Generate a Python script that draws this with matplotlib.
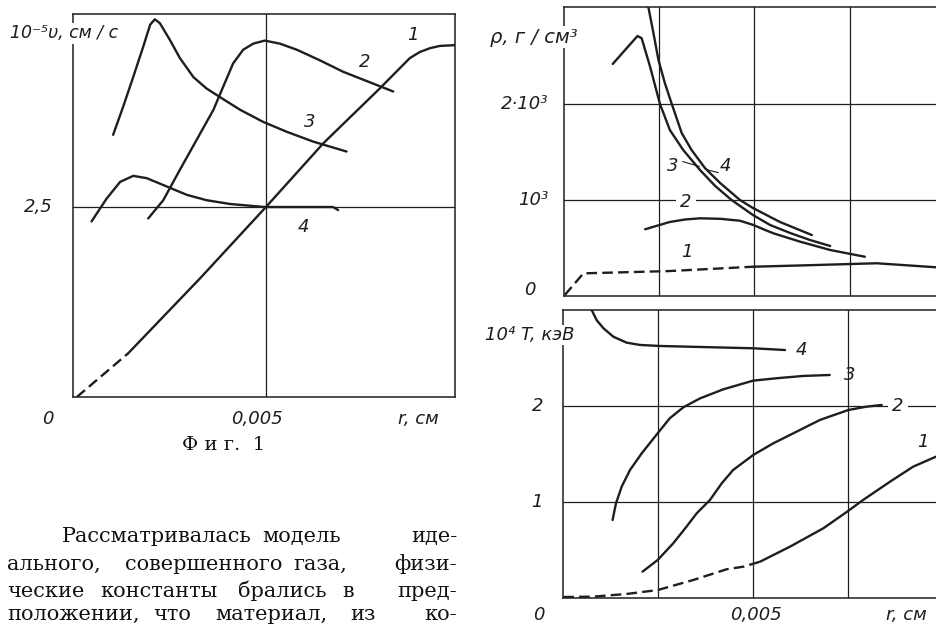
import matplotlib
matplotlib.use('Agg')
import matplotlib.pyplot as plt
from matplotlib.transforms import offset_copy

# ---------------- data ----------------
# Fig. 1 (left): velocity 10^-5 v, cm/s vs r, cm
v1_dash_r = [0.0001, 0.00143]
v1_dash = [0.0, 0.575]
v1_r = [0.00143, 0.00329, 0.0050, 0.00649, 0.00795, 0.00873, 0.00899, 0.00925, 0.00951, 0.0099]
v1 = [0.575, 1.56, 2.50, 3.34, 4.06, 4.46, 4.54, 4.59, 4.62, 4.63]
v2_r = [0.00195, 0.00234, 0.00277, 0.00320, 0.00364, 0.00389, 0.00415, 0.00441, 0.00467, 0.00497,
        0.00536, 0.00580, 0.00640, 0.00700, 0.00830]
v2 = [2.35, 2.59, 2.99, 3.38, 3.78, 4.08, 4.39, 4.57, 4.65, 4.69,
      4.65, 4.57, 4.43, 4.28, 4.02]
v3_r = [0.00104, 0.00130, 0.00156, 0.00182, 0.00200, 0.00212, 0.00225, 0.00251, 0.00277, 0.00312,
        0.00346, 0.00389, 0.00433, 0.00493, 0.00554, 0.00623, 0.00709]
v3 = [3.45, 3.82, 4.21, 4.61, 4.90, 4.97, 4.92, 4.70, 4.46, 4.21,
      4.06, 3.92, 3.78, 3.62, 3.49, 3.36, 3.23]
v4_r = [0.00048, 0.00087, 0.00122, 0.00156, 0.00191, 0.00243, 0.00295, 0.00346, 0.00407, 0.00497,
        0.00623, 0.00674, 0.00687]
v4 = [2.31, 2.61, 2.83, 2.91, 2.88, 2.77, 2.66, 2.59, 2.54, 2.50,
      2.50, 2.50, 2.46]
v_xgrid = [0.005]
v_ygrid = [2.5]
v_ytick_labels = ['2,5']

# right top: density rho, g/cm^3
rho1_dash_r = [0.00002, 0.00051, 0.00278, 0.00497]
rho1_dash = [10, 236, 260, 305]
rho1_r = [0.00497, 0.0062, 0.00821, 0.00977]
rho1 = [305, 318, 341, 299]
rho2_r = [0.00213, 0.00278, 0.00318, 0.00357, 0.00410, 0.00462, 0.00497, 0.00528, 0.00550, 0.00620,
          0.00699, 0.00790]
rho2 = [695, 771, 797, 809, 804, 784, 740, 688, 653, 566, 479, 409]
rho3_r = [0.00128, 0.00193, 0.00204, 0.00226, 0.00252, 0.00278, 0.00313, 0.00357, 0.00397, 0.00440,
          0.00496, 0.00541, 0.00594, 0.00646, 0.00699]
rho3 = [2417, 2708, 2684, 2389, 2000, 1729, 1521, 1313, 1146, 1000,
        844, 740, 656, 583, 521]
rho4_r = [0.00218, 0.00235, 0.00248, 0.00265, 0.00283, 0.00309, 0.00335, 0.00370, 0.00410, 0.00462,
          0.00496, 0.00567, 0.00651]
rho4 = [3080, 2736, 2458, 2216, 2000, 1698, 1521, 1333, 1177, 1000, 917, 771, 635]
rho_grid_x = [0.0025, 0.005, 0.0075]
rho_grid_y = [1000, 2000]
rho_tick_labels = ['10³', '2·10³']

# right bottom: temperature 10^4 T, keV
T1_dash_r = [0.0, 0.00079, 0.00167, 0.00249, 0.00343, 0.00431, 0.00475, 0.00519]
T1_dash = [0.007, 0.011, 0.039, 0.080, 0.185, 0.297, 0.324, 0.376]
T1_r = [0.00519, 0.00598, 0.00686, 0.00749, 0.00791, 0.00862, 0.00923, 0.00983]
T1 = [0.376, 0.533, 0.725, 0.899, 1.021, 1.212, 1.369, 1.473]
T2_r = [0.00209, 0.00249, 0.00290, 0.00325, 0.00352, 0.00387, 0.00418, 0.00448, 0.00501, 0.00554,
        0.00607, 0.00677, 0.00752, 0.00800, 0.00840]
T2 = [0.272, 0.394, 0.568, 0.742, 0.882, 1.021, 1.195, 1.334, 1.491, 1.613,
      1.718, 1.857, 1.961, 1.996, 2.014]
T3_r = [0.00130, 0.00139, 0.00154, 0.00176, 0.00207, 0.00249, 0.00281, 0.00317, 0.00361, 0.00422,
        0.00501, 0.00563, 0.00633, 0.00703]
T3 = [0.812, 0.986, 1.160, 1.334, 1.509, 1.718, 1.875, 1.990, 2.083, 2.177,
      2.268, 2.293, 2.317, 2.327]
T4_r = [0.00072, 0.00088, 0.00106, 0.00132, 0.00167, 0.00202, 0.00255, 0.00501, 0.00585]
T4 = [3.03, 2.90, 2.815, 2.727, 2.665, 2.641, 2.630, 2.606, 2.588]
T_grid_x = [0.0025, 0.005, 0.0075]
T_grid_y = [1, 2]
T_tick_labels = ['1', '2']

# ---------------- figure ----------------
W, H = 936, 627
fig = plt.figure(figsize=(W / 100, H / 100), dpi=100)
fig.patch.set_facecolor('white')
INK = '#1e1e1e'
LW = 1.7
SANS = dict(family='DejaVu Sans', style='italic', color=INK)
FS = 13


def ax_at(l, t, r, b):
    return fig.add_axes([l / W, 1 - b / H, (r - l) / W, (b - t) / H])


def style(ax, gx, gy, xlim, ylim):
    ax.set_xlim(*xlim)
    ax.set_ylim(*ylim)
    ax.set_xticks(gx)
    ax.set_yticks(gy)
    ax.tick_params(length=0, labelbottom=False, labelleft=False)
    ax.grid(True, color=INK, lw=0.9)
    for s in ax.spines.values():
        s.set_color(INK)
        s.set_linewidth(1.1)
    ax.set_facecolor('white')


def ytext(ax, y, s, dx, dy=0, ha='right', size=FS):
    tr = offset_copy(ax.get_yaxis_transform(), fig=fig, x=dx, y=dy, units='dots')
    ax.text(0, y, s, transform=tr, ha=ha, va='center', fontsize=size, clip_on=False, **SANS)


def xtext(ax, x, s, dx, dy, size=FS):
    tr = offset_copy(ax.get_xaxis_transform(), fig=fig, x=dx, y=dy, units='dots')
    ax.text(x, 0, s, transform=tr, ha='center', va='center', fontsize=size, clip_on=False, **SANS)


def line(ax, x, y, dashed=False):
    if dashed:
        ax.plot(x, y, color=INK, lw=LW, dashes=(4.5, 2.2), solid_capstyle='butt')
    else:
        ax.plot(x, y, color=INK, lw=LW, solid_joinstyle='round', solid_capstyle='round')


# ---- left: velocity ----
axv = ax_at(73, 14, 455, 397)
style(axv, v_xgrid, v_ygrid, (0, 0.0099), (0, 5.04))
line(axv, v1_dash_r, v1_dash, dashed=True)
line(axv, v1_r, v1)
line(axv, v2_r, v2)
line(axv, v3_r, v3)
line(axv, v4_r, v4)
for s, x, y in [('1', 0.00882, 4.76), ('2', 0.00757, 4.41), ('3', 0.00614, 3.62), ('4', 0.00597, 2.24)]:
    axv.text(x, y, s, ha='center', va='center', fontsize=FS, **SANS)
for y, s in zip(v_ygrid, v_ytick_labels):
    ytext(axv, y, s, dx=-20)
xtext(axv, 0, '0', dx=-25, dy=-22)
xtext(axv, v_xgrid[0], '0,005', dx=-9, dy=-22)
axv.text(0.903, 0, 'r, см', transform=offset_copy(axv.transAxes, fig=fig, y=-22, units='dots'),
         ha='center', va='center', fontsize=FS, **SANS)
axv.text(-0.165, 0.950, '10⁻⁵υ, см / с', transform=axv.transAxes, ha='left', va='center',
         fontsize=12.5, zorder=5, bbox=dict(facecolor='white', edgecolor='none', pad=1.0), **SANS)

# ---- right top: density ----
axr = ax_at(564, 7, 944.8, 296)
style(axr, rho_grid_x, rho_grid_y, (0, 0.01), (0, 3010))
line(axr, rho1_dash_r, rho1_dash, dashed=True)
line(axr, rho1_r, rho1)
line(axr, rho2_r, rho2)
line(axr, rho3_r, rho3)
line(axr, rho4_r, rho4)
axr.text(0.00320, 982, '2', ha='center', va='center', fontsize=FS, zorder=5,
         bbox=dict(facecolor='white', edgecolor='none', pad=3.0), **SANS)
axr.text(0.00322, 461, '1', ha='center', va='center', fontsize=FS, **SANS)
axr.text(0.00286, 1350, '3', ha='center', va='center', fontsize=FS, **SANS)
axr.text(0.00423, 1350, '4', ha='center', va='center', fontsize=FS, **SANS)
axr.plot([0.00312, 0.00355], [1400, 1350], color=INK, lw=0.8)
axr.plot([0.00378, 0.00405], [1312, 1285], color=INK, lw=0.8)
for y, s in zip(rho_grid_y, rho_tick_labels):
    ytext(axr, y, s, dx=-16)
ytext(axr, 0, '0', dx=-34, dy=6, ha='center')
axr.text(-0.194, 0.896, 'ρ, г / см³', transform=axr.transAxes, ha='left', va='center',
         fontsize=14, zorder=5, bbox=dict(facecolor='white', edgecolor='none', pad=1.0), **SANS)

# ---- right bottom: temperature ----
axT = ax_at(563.3, 310, 942.3, 597.7)
style(axT, T_grid_x, T_grid_y, (0, 0.01), (0, 3.006))
line(axT, T1_dash_r, T1_dash, dashed=True)
line(axT, T1_r, T1)
line(axT, T2_r, T2)
line(axT, T3_r, T3)
line(axT, T4_r, T4)
axT.text(0.00883, 2.0, '2', ha='center', va='center', fontsize=FS, zorder=5,
         bbox=dict(facecolor='white', edgecolor='none', pad=3.0), **SANS)
axT.text(0.00949, 1.63, '1', ha='center', va='center', fontsize=FS, **SANS)
axT.text(0.00756, 2.33, '3', ha='center', va='center', fontsize=FS, **SANS)
axT.text(0.00629, 2.59, '4', ha='center', va='center', fontsize=FS, **SANS)
for y, s in zip(T_grid_y, T_tick_labels):
    ytext(axT, y, s, dx=-26, ha='center')
ytext(axT, 0, '0', dx=-24, dy=-17, ha='center')
xtext(axT, 0.005, '0,005', dx=3, dy=-17)
axT.text(0.906, 0, 'r, см', transform=offset_copy(axT.transAxes, fig=fig, y=-17, units='dots'),
         ha='center', va='center', fontsize=FS, **SANS)
axT.text(-0.2066, 0.913, '10⁴ T, кэВ', transform=axT.transAxes, ha='left', va='center',
         fontsize=13, zorder=5, bbox=dict(facecolor='white', edgecolor='none', pad=1.0), **SANS)

# ---- caption & body text ----
SERIF = dict(family='DejaVu Serif', color='#111111')
fig.text(224 / W, 1 - 445 / H, 'Ф и г.  1', ha='center', va='center', fontsize=14, **SERIF)

RIGHT = 457
words = [
    (542, [(62, 'Рассматривалась'), (262, 'модель')], 'иде-'),
    (570, [(7, 'ального,'), (125, 'совершенного'), (293, 'газа,')], 'физи-'),
    (597, [(7, 'ческие'), (100, 'константы'), (238, 'брались'), (342, 'в')], 'пред-'),
    (620, [(7, 'положении,'), (153, 'что'), (215, 'материал,'), (350, 'из')], 'ко-'),
]
for base, ws, last in words:
    for x, w in ws:
        fig.text(x / W, 1 - base / H, w, ha='left', va='baseline', fontsize=15, **SERIF)
    fig.text(RIGHT / W, 1 - base / H, last, ha='right', va='baseline', fontsize=15, **SERIF)

fig.savefig('out.png', dpi=100, facecolor='white')
